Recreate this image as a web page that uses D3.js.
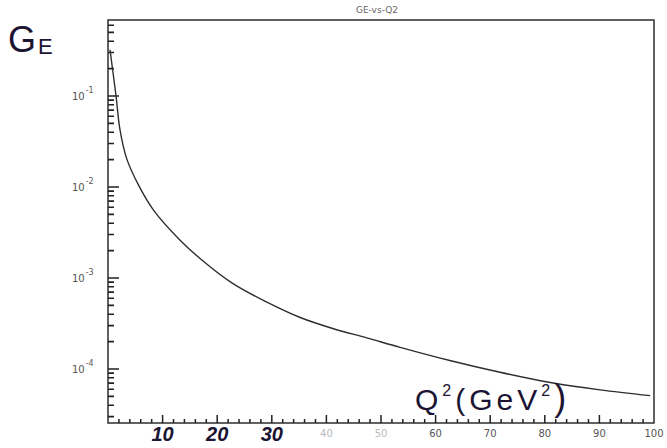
<!DOCTYPE html>
<html><head><meta charset="utf-8">
<script src="https://cdn.jsdelivr.net/npm/d3@7"></script>
<style>body{margin:0;background:#fff}svg{display:block}</style>
</head><body>
<svg id="c" width="667" height="448"></svg>
<script>
// Data
const q2 = [0.37, 1.47, 2.2, 3.42, 5.55, 8.3, 13.2, 16.8, 22.9, 29.1, 35.2, 41.3, 47.4, 53.5, 62.6, 71.8, 81.0, 90.1, 99.3];
const ge = [0.321, 0.1, 0.0423, 0.0205, 0.0106, 0.0056, 0.0026, 0.00165, 0.000866, 0.000543, 0.000368, 0.000277, 0.00022, 0.000173, 0.000124, 0.000092, 0.000071, 0.000059, 0.000051];
const yDecades = [1e-1, 1e-2, 1e-3, 1e-4];
const yDecadeExp = ["-1", "-2", "-3", "-4"];
const xPrinted = [40, 50, 60, 70, 80, 90, 100];
const xHand = [10, 20, 30];
const title = "GE-vs-Q2";

const svg = d3.select("#c");
const L = 108, R = 654, T = 20, B = 423;
const x = d3.scaleLinear().domain([0, 100]).range([L, R]);
const y = d3.scaleLog().domain([2.55e-5, 0.684]).range([B, T]);

const ink = "#2e2e2e";
const hand = "#1c1433";

// frame
svg.append("rect").attr("x", L).attr("y", T).attr("width", R - L).attr("height", B - T)
  .attr("fill", "none").attr("stroke", ink).attr("stroke-width", 1.5);

// y ticks (inward)
const yMinor = [];
for (let e = -5; e <= 0; e++) for (let m = 2; m <= 9; m++) { const v = m * Math.pow(10, e); if (v >= 2.6e-5 && v <= 0.68) yMinor.push(v); }
const ytickPath = yMinor.map(v => `M${L},${y(v)}h6`).join("") + yDecades.map(v => `M${L},${y(v)}h11`).join("");
svg.append("path").attr("d", ytickPath).attr("fill", "none").style("stroke", "#222").style("stroke-width", "1.6px");

// x ticks (inward)
const xTickVals = d3.range(2, 100, 2);
const xtickPath = xTickVals.map(v => `M${x(v)},${B}v${v % 10 === 0 ? -8 : -4}`).join("");
svg.append("path").attr("d", xtickPath).attr("fill", "none").style("stroke", "#222").style("stroke-width", "1.5px");

// y labels
const yl = svg.append("g").attr("fill", "#555").attr("font-family", "DejaVu Sans, sans-serif");
yDecades.forEach((d, i) => {
  const t = yl.append("text").attr("x", 72).attr("y", y(d) + 4).attr("font-size", 10);
  t.append("tspan").text("10");
  t.append("tspan").attr("dy", -7).attr("dx", 1).attr("font-size", 8).text(yDecadeExp[i]);
});

// printed x labels
svg.append("g").selectAll("text").data(xPrinted).join("text")
  .attr("x", d => x(d)).attr("y", 437).attr("text-anchor", "middle")
  .attr("font-family", "DejaVu Sans, sans-serif").attr("font-size", 10)
  .attr("fill", d => d <= 50 ? "#bbb" : "#555").text(d => d);

// handwritten x labels
svg.append("g").selectAll("text").data(xHand).join("text")
  .attr("x", d => x(d)).attr("y", 441).attr("text-anchor", "middle")
  .attr("font-family", "Liberation Sans, sans-serif").attr("font-style", "italic").attr("font-weight", "bold")
  .attr("font-size", 20).attr("fill", hand).text(d => d);

// curve
const line = d3.line().x((d, i) => x(q2[i])).y(d => y(d)).curve(d3.curveCatmullRom.alpha(0.5));
svg.append("path").datum(ge).attr("d", line).attr("fill", "none").attr("stroke", ink).attr("stroke-width", 1.4);

// title
svg.append("text").attr("x", 377).attr("y", 13).attr("text-anchor", "middle")
  .attr("font-family", "DejaVu Sans, sans-serif").attr("font-size", 9).attr("fill", "#666").text(title);

// handwritten G_E
const ga = svg.append("text").attr("x", 8).attr("y", 52).attr("fill", hand)
  .attr("font-family", "Liberation Sans, sans-serif");
ga.append("tspan").attr("font-size", 36).text("G");
ga.append("tspan").attr("font-size", 22).attr("dy", 2).attr("dx", 2).text("E");

// handwritten axis title
const qt = svg.append("text").attr("x", 415).attr("y", 410).attr("fill", hand)
  .attr("font-family", "Liberation Sans, sans-serif").attr("font-size", 30).attr("letter-spacing", 4);
qt.append("tspan").text("Q");
qt.append("tspan").attr("font-size", 16).attr("dy", -14).text("2");
qt.append("tspan").attr("dy", 14).text("(GeV");
qt.append("tspan").attr("font-size", 16).attr("dy", -14).text("2");
qt.append("tspan").attr("dy", 14).attr("font-size", 36).text(")");
</script>
</body></html>
